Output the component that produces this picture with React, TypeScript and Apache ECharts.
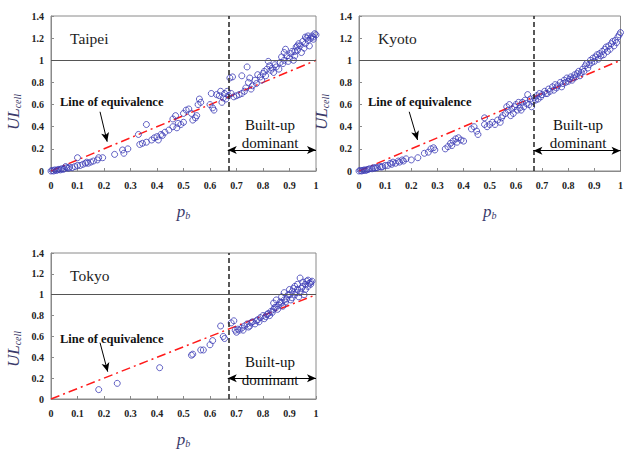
import React, { useEffect, useRef } from "react";
import * as echarts from "echarts";

const X_TICKS = [0, 0.1, 0.2, 0.3, 0.4, 0.5, 0.6, 0.7, 0.8, 0.9, 1];
const Y_TICKS = [0, 0.2, 0.4, 0.6, 0.8, 1, 1.2, 1.4];
const CITIES = ["Taipei", "Kyoto", "Tokyo"];
const THRESHOLD = 0.667;
const EQUIV = [[0, 0], [1, 1]];

const TAIPEI = [
  [0, 0], [0.005, 0.005], [0.01, 0], [0.015, 0.01], [0.02, 0.005], [0.025, 0.01], [0.03, 0.015], [0.035, 0.01],
  [0.04, 0.02], [0.045, 0.015], [0.05, 0.02], [0.055, 0.04], [0.06, 0.03], [0.065, 0.025], [0.07, 0.035], [0.08, 0.03],
  [0.09, 0.04], [0.1, 0.05], [0.1, 0.12], [0.11, 0.05], [0.12, 0.06], [0.13, 0.07], [0.135, 0.08], [0.14, 0.07],
  [0.15, 0.08], [0.16, 0.09], [0.175, 0.1], [0.18, 0.12], [0.195, 0.12], [0.24, 0.15], [0.27, 0.19], [0.275, 0.16],
  [0.29, 0.2], [0.33, 0.33], [0.335, 0.24], [0.345, 0.25], [0.36, 0.26], [0.36, 0.42], [0.38, 0.28], [0.39, 0.3],
  [0.4, 0.31], [0.405, 0.28], [0.415, 0.33], [0.42, 0.32], [0.43, 0.35], [0.445, 0.37], [0.46, 0.4], [0.46, 0.47],
  [0.47, 0.5], [0.475, 0.39], [0.48, 0.43], [0.49, 0.42], [0.5, 0.52], [0.5, 0.44], [0.51, 0.55], [0.52, 0.56],
  [0.53, 0.52], [0.535, 0.46], [0.545, 0.48], [0.55, 0.5], [0.555, 0.6], [0.56, 0.65], [0.565, 0.62], [0.6, 0.6],
  [0.605, 0.7], [0.61, 0.57], [0.615, 0.55], [0.625, 0.69], [0.635, 0.68], [0.64, 0.72], [0.645, 0.62], [0.65, 0.66],
  [0.655, 0.7], [0.66, 0.65], [0.665, 0.72], [0.67, 0.68], [0.675, 0.84], [0.68, 0.7], [0.685, 0.85], [0.69, 0.67],
  [0.7, 0.68], [0.71, 0.69], [0.72, 0.86], [0.72, 0.7], [0.73, 0.72], [0.735, 0.75], [0.74, 0.94], [0.745, 0.8],
  [0.75, 0.84], [0.755, 0.74], [0.76, 0.77], [0.77, 0.82], [0.775, 0.79], [0.78, 0.87], [0.79, 0.85], [0.795, 0.82],
  [0.8, 0.88], [0.805, 0.9], [0.81, 0.86], [0.815, 0.92], [0.82, 0.99], [0.825, 0.95], [0.83, 0.91], [0.835, 0.93],
  [0.84, 0.89], [0.845, 0.96], [0.85, 0.94], [0.86, 0.92], [0.865, 0.98], [0.87, 1.03], [0.875, 0.97], [0.88, 1.0],
  [0.88, 1.07], [0.885, 1.1], [0.89, 1.04], [0.895, 0.99], [0.9, 1.02], [0.905, 1.06], [0.91, 1.08], [0.915, 1.0],
  [0.92, 1.04], [0.925, 1.12], [0.93, 1.09], [0.935, 1.15], [0.94, 1.13], [0.945, 1.07], [0.95, 1.17], [0.955, 1.11],
  [0.96, 1.15], [0.965, 1.2], [0.97, 1.18], [0.975, 1.13], [0.98, 1.2], [0.985, 1.22], [0.99, 1.19], [0.995, 1.24],
  [1.0, 1.23], [0.96, 1.21], [0.97, 1.22], [0.99, 1.21], [0.93, 1.13], [0.92, 1.08],
];

const KYOTO = [
  [0, 0], [0.005, 0.005], [0.01, 0], [0.015, 0.005], [0.02, 0.01], [0.025, 0.005], [0.03, 0.01], [0.035, 0.015],
  [0.04, 0.02], [0.05, 0.02], [0.055, 0.03], [0.06, 0.025], [0.065, 0.03], [0.07, 0.03], [0.08, 0.04], [0.085, 0.035],
  [0.09, 0.04], [0.1, 0.05], [0.11, 0.05], [0.12, 0.07], [0.125, 0.06], [0.13, 0.08], [0.14, 0.07], [0.15, 0.09],
  [0.155, 0.08], [0.165, 0.1], [0.17, 0.09], [0.18, 0.11], [0.2, 0.1], [0.225, 0.12], [0.25, 0.16], [0.265, 0.17],
  [0.275, 0.2], [0.285, 0.21], [0.29, 0.19], [0.33, 0.2], [0.34, 0.22], [0.35, 0.25], [0.355, 0.23], [0.36, 0.27],
  [0.37, 0.29], [0.375, 0.26], [0.38, 0.3], [0.39, 0.28], [0.4, 0.27], [0.43, 0.38], [0.44, 0.4], [0.45, 0.36],
  [0.455, 0.33], [0.48, 0.48], [0.48, 0.42], [0.49, 0.4], [0.5, 0.42], [0.51, 0.44], [0.52, 0.42], [0.53, 0.46],
  [0.54, 0.44], [0.545, 0.48], [0.55, 0.5], [0.56, 0.52], [0.565, 0.58], [0.57, 0.55], [0.575, 0.6], [0.58, 0.5],
  [0.585, 0.56], [0.59, 0.52], [0.595, 0.58], [0.6, 0.6], [0.605, 0.55], [0.61, 0.62], [0.615, 0.57], [0.62, 0.55],
  [0.625, 0.62], [0.63, 0.58], [0.635, 0.64], [0.64, 0.61], [0.645, 0.69], [0.65, 0.6], [0.655, 0.65], [0.66, 0.58],
  [0.665, 0.63], [0.67, 0.66], [0.675, 0.64], [0.68, 0.68], [0.685, 0.65], [0.69, 0.7], [0.695, 0.67], [0.7, 0.69],
  [0.71, 0.72], [0.715, 0.7], [0.72, 0.7], [0.725, 0.74], [0.73, 0.72], [0.74, 0.76], [0.745, 0.73], [0.75, 0.78],
  [0.755, 0.75], [0.76, 0.77], [0.77, 0.8], [0.775, 0.76], [0.78, 0.79], [0.785, 0.82], [0.79, 0.8], [0.795, 0.84],
  [0.8, 0.81], [0.805, 0.83], [0.81, 0.85], [0.815, 0.82], [0.82, 0.84], [0.825, 0.87], [0.83, 0.85], [0.835, 0.88],
  [0.84, 0.9], [0.845, 0.86], [0.85, 0.89], [0.855, 0.92], [0.86, 0.9], [0.865, 0.95], [0.87, 0.97], [0.875, 0.93],
  [0.88, 0.96], [0.885, 1.0], [0.89, 0.98], [0.895, 1.02], [0.9, 0.99], [0.905, 1.03], [0.91, 1.05], [0.915, 1.01],
  [0.92, 1.06], [0.925, 1.04], [0.93, 1.08], [0.935, 1.05], [0.94, 1.1], [0.945, 1.12], [0.95, 1.08], [0.955, 1.13],
  [0.96, 1.1], [0.965, 1.15], [0.97, 1.17], [0.975, 1.13], [0.98, 1.18], [0.985, 1.16], [0.99, 1.21], [0.995, 1.23],
  [1.0, 1.25],
];

const TOKYO = [
  [0.18, 0.09], [0.25, 0.15], [0.41, 0.3], [0.53, 0.42], [0.535, 0.43], [0.565, 0.47], [0.575, 0.47], [0.6, 0.52],
  [0.61, 0.56], [0.64, 0.7], [0.65, 0.6], [0.655, 0.58], [0.68, 0.73], [0.69, 0.75], [0.695, 0.66], [0.7, 0.64],
  [0.705, 0.67], [0.71, 0.66], [0.72, 0.68], [0.725, 0.66], [0.73, 0.7], [0.74, 0.72], [0.745, 0.69], [0.75, 0.7],
  [0.755, 0.73], [0.76, 0.74], [0.77, 0.72], [0.775, 0.75], [0.78, 0.76], [0.785, 0.74], [0.79, 0.78], [0.8, 0.8],
  [0.805, 0.77], [0.81, 0.79], [0.815, 0.81], [0.82, 0.82], [0.825, 0.8], [0.83, 0.84], [0.835, 0.83], [0.84, 0.86],
  [0.84, 0.92], [0.845, 0.88], [0.85, 0.88], [0.85, 0.95], [0.855, 0.86], [0.86, 0.9], [0.865, 0.93], [0.87, 0.98],
  [0.87, 0.92], [0.875, 0.89], [0.88, 0.95], [0.88, 1.02], [0.885, 0.93], [0.89, 0.96], [0.895, 1.0], [0.9, 1.0],
  [0.9, 1.05], [0.905, 0.95], [0.91, 1.03], [0.91, 0.97], [0.915, 1.06], [0.92, 1.08], [0.92, 1.0], [0.925, 1.02],
  [0.93, 1.05], [0.93, 1.1], [0.935, 0.98], [0.94, 1.16], [0.94, 1.02], [0.945, 1.06], [0.95, 1.08], [0.95, 1.12],
  [0.955, 1.0], [0.96, 1.05], [0.96, 1.1], [0.965, 1.13], [0.97, 1.14], [0.97, 1.08], [0.975, 1.11], [0.98, 1.12],
  [0.98, 1.1], [0.985, 1.13],
];

const DATASETS = [TAIPEI, KYOTO, TOKYO];
// annotation anchors (data coordinates): arrow from label to equivalence line, double arrow height
const ARROW_FROM = [[0.185, 0.535], [0.192, 0.535], [0.185, 0.54]];
const ARROW_TO = [[0.212, 0.265], [0.224, 0.28], [0.214, 0.262]];
const DOMINANT_Y = [0.19, 0.183, 0.2];

const FONT = "'Liberation Serif', 'Times New Roman', serif";
const GRIDS = [
  { left: 51, top: 16, width: 265, height: 155 },
  { left: 359, top: 16, width: 265, height: 155 },
  { left: 51, top: 253, width: 265, height: 155 },
];

function fmt(v: number) {
  return String(Number(v.toFixed(1)));
}

export default function App() {
  const ref = useRef<HTMLDivElement>(null);
  useEffect(() => {
    if (!ref.current) return;
    const chart = echarts.init(ref.current, undefined, { renderer: "svg" });
    const axisLine = { show: true, lineStyle: { color: "#8a8a8a", width: 1 } };
    const labelStyle = { fontFamily: FONT, fontWeight: "bold" as const, fontSize: 10, color: "#222" };

    const xAxis = GRIDS.map((_, i) => ({
      type: "value",
      gridIndex: i,
      min: X_TICKS[0],
      max: X_TICKS[X_TICKS.length - 1],
      interval: 0.1,
      axisLine,
      axisTick: { show: true, inside: true, length: 3, lineStyle: { color: "#8a8a8a" } },
      splitLine: { show: false },
      axisLabel: { ...labelStyle, margin: 9, formatter: fmt },
      name: "{p|p}{b|b}",
      nameLocation: "middle",
      nameGap: 32,
      nameTextStyle: {
        rich: {
          p: { fontFamily: FONT, fontStyle: "italic", fontSize: 17, color: "#3a3a6a" },
          b: { fontFamily: FONT, fontStyle: "italic", fontSize: 10, color: "#3a3a6a", padding: [7, 0, 0, 0] },
        },
      },
    }));
    const yAxis = GRIDS.map((_, i) => ({
      type: "value",
      gridIndex: i,
      min: Y_TICKS[0],
      max: Y_TICKS[Y_TICKS.length - 1],
      interval: 0.2,
      axisLine,
      axisTick: { show: true, inside: true, length: 3, lineStyle: { color: "#8a8a8a" } },
      splitLine: { show: false },
      axisLabel: { ...labelStyle, margin: 7, formatter: fmt },
    }));

    const series: any[] = [];
    DATASETS.forEach((data, i) => {
      series.push({
        type: "line",
        xAxisIndex: i,
        yAxisIndex: i,
        data: EQUIV,
        symbol: "none",
        silent: true,
        z: 1,
        lineStyle: { color: "#ff1a1a", width: 1.5, type: [9, 4, 2, 4] },
      });
      series.push({
        type: "scatter",
        xAxisIndex: i,
        yAxisIndex: i,
        data,
        symbol: "circle",
        symbolSize: 6,
        z: 3,
        itemStyle: { color: "rgba(0,0,0,0)", borderColor: "#3b3bb5", borderWidth: 1 },
        markLine: {
          silent: true,
          animation: false,
          symbol: ["none", "none"],
          label: { show: false },
          data: [
            { xAxis: THRESHOLD, lineStyle: { color: "#222", width: 1.5, type: [5, 3] } },
            { yAxis: 1, lineStyle: { color: "#555", width: 1, type: "solid" } },
            [
              { coord: ARROW_FROM[i], symbol: "none", lineStyle: { color: "#000", width: 1, type: "solid" } },
              { coord: ARROW_TO[i], symbol: "arrow", symbolSize: [6, 9] },
            ],
            [
              { coord: [THRESHOLD, DOMINANT_Y[i]], symbol: "arrow", symbolSize: [6, 9], lineStyle: { color: "#000", width: 1.2, type: "solid" } },
              { coord: [1, DOMINANT_Y[i]], symbol: "arrow", symbolSize: [6, 9] },
            ],
          ],
        },
      });
    });

    const graphic: any[] = [];
    GRIDS.forEach((g, i) => {
      graphic.push({
        type: "text",
        x: g.left + 19,
        y: g.top + 22,
        style: { text: CITIES[i], font: `15.5px ${FONT}`, fill: "#222", verticalAlign: "middle" },
      });
      graphic.push({
        type: "text",
        x: g.left + 9,
        y: g.top + 86,
        style: { text: "Line of equivalence", font: `bold 12.5px ${FONT}`, fill: "#111", verticalAlign: "middle" },
      });
      graphic.push({
        type: "text",
        x: g.left + 219,
        y: g.top + 109,
        style: { text: "Built-up", font: `15px ${FONT}`, fill: "#111", align: "center", verticalAlign: "middle" },
      });
      graphic.push({
        type: "text",
        x: g.left + 219,
        y: g.top + 127,
        style: { text: "dominant", font: `15px ${FONT}`, fill: "#111", align: "center", verticalAlign: "middle" },
      });
      graphic.push({
        type: "text",
        x: g.left - 38,
        y: g.top + 96,
        rotation: Math.PI / 2,
        style: {
          text: "{u|UL}{c|cell}",
          align: "center",
          verticalAlign: "middle",
          rich: {
            u: { fontFamily: FONT, fontStyle: "italic", fontSize: 17, fill: "#3a3a6a", lineHeight: 20 },
            c: { fontFamily: FONT, fontStyle: "italic", fontSize: 10, fill: "#3a3a6a", lineHeight: 20, padding: [8, 0, 0, 0] },
          },
        },
      });
    });

    chart.setOption({
      animation: false,
      backgroundColor: "#fff",
      grid: GRIDS.map((g) => ({ ...g, show: true, borderColor: "#8a8a8a", borderWidth: 1, backgroundColor: "transparent" })),
      xAxis,
      yAxis,
      series,
      graphic,
    });
    return () => chart.dispose();
  }, []);
  return <div ref={ref} style={{ position: "fixed", left: 0, top: 0, width: 626, height: 449 }} />;
}
